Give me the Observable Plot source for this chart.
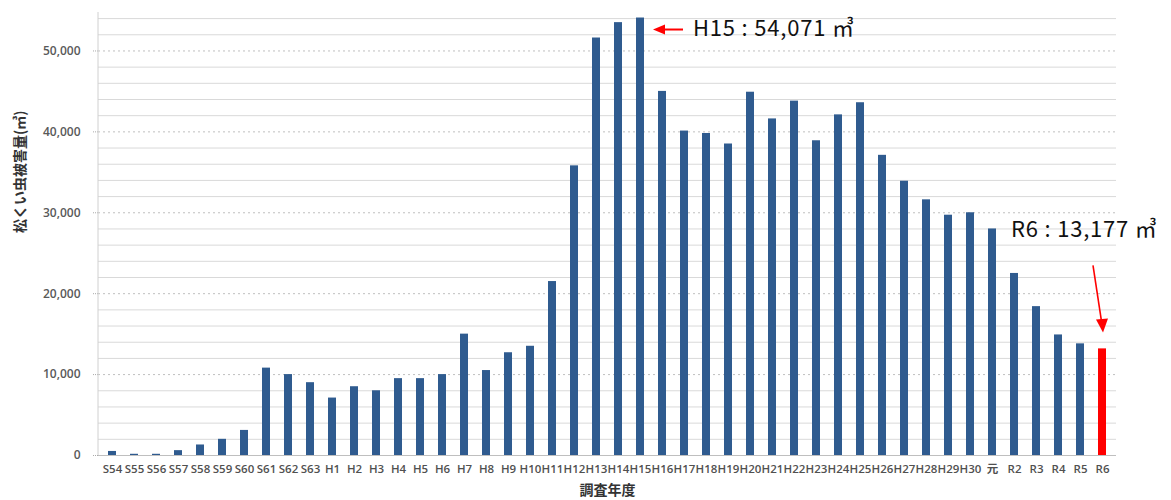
<!DOCTYPE html>
<html><head><meta charset="utf-8">
<script src="https://cdn.jsdelivr.net/npm/d3@7"></script>
<script src="https://cdn.jsdelivr.net/npm/@observablehq/plot@0.6"></script>
<style>
body{margin:0;background:#fff;}
</style></head>
<body><div id="chart"></div>
<script>
const years = ["S54","S55","S56","S57","S58","S59","S60","S61","S62","S63",
"H1","H2","H3","H4","H5","H6","H7","H8","H9","H10","H11","H12","H13","H14","H15",
"H16","H17","H18","H19","H20","H21","H22","H23","H24","H25","H26","H27","H28","H29","H30",
"元","R2","R3","R4","R5","R6"];
const damage = [500,150,150,600,1300,2000,3100,10800,10000,9000,
7100,8500,8000,9500,9500,10000,15000,10500,12700,13500,21500,35800,51600,53500,54071,
45000,40100,39800,38500,44900,41600,43800,38900,42100,43600,37100,33900,31600,29700,30000,
28000,22500,18400,14900,13800,13177];
const highlightYear = "R6";
const yTicks = [0,10000,20000,30000,40000,50000];
const minorGrid = d3.range(2000, 56000, 2000).filter(v => v % 10000 !== 0);
const majorGrid = [10000,20000,30000,40000,50000];
const notes = [
  {year:"H15", value:54071, label:"H15 : 54,071 ㎥"},
  {year:"R6", value:13177, label:"R6 : 13,177 ㎥"}
];

const data = years.map((y,i)=>({year:y, value:damage[i]}));

function annotations(index, scales, values, dimensions) {
  const ns = "http://www.w3.org/2000/svg";
  const g = document.createElementNS(ns, "g");
  g.setAttribute("text-anchor", "start");
  const x = scales.x, y = scales.y, bw = x.bandwidth();
  const red = "#ff0000";
  const font = "'Noto Sans CJK JP',sans-serif";
  function add(tag, attrs, text) {
    const el = document.createElementNS(ns, tag);
    for (const k in attrs) el.setAttribute(k, attrs[k]);
    if (text) el.textContent = text;
    g.appendChild(el); return el;
  }
  // left axis line
  add("line", {x1: dimensions.marginLeft, x2: dimensions.marginLeft,
    y1: dimensions.marginTop + 2, y2: dimensions.height - dimensions.marginBottom, stroke: "#d0d0d0"});
  // H15 note: arrow pointing left to bar top
  const a = notes[0];
  const ax = x(a.year) + bw/2 + 13, ay = y(a.value) + 12;
  add("line", {x1: ax + 30, y1: ay, x2: ax + 10, y2: ay, stroke: red, "stroke-width": 2});
  add("path", {d:`M${ax},${ay} L${ax+12},${ay-5} L${ax+12},${ay+5} Z`, fill: red});
  add("text", {x: ax + 40, y: ay + 6, "font-size": 22, "letter-spacing": 0.8, fill: "#111", "text-anchor": "start", "font-family": font}, a.label);
  // R6 note: label above, arrow pointing down
  const b = notes[1];
  const bx = x(b.year) + bw/2, by = y(b.value);
  add("text", {x: bx - 91, y: by - 111, "font-size": 22, "letter-spacing": 0.8, fill: "#111", "text-anchor": "start", "font-family": font}, b.label);
  const tx = bx + 1, ty = by - 16, sx = bx - 9, sy = by - 83;
  add("line", {x1: sx, y1: sy, x2: tx - 1.5, y2: ty - 11, stroke: red, "stroke-width": 1.6});
  add("path", {d:`M${tx},${ty} L${tx-7},${ty-13} L${tx+5},${ty-14} Z`, fill: red});
  return g;
}

const chart = Plot.plot({
  width: 1171,
  height: 500,
  marginLeft: 98,
  marginRight: 55,
  marginTop: 10,
  marginBottom: 45,
  style: {fontFamily: "'Open Sans','Noto Sans CJK JP',sans-serif", background: "#fff", overflow: "visible"},
  x: {domain: years, paddingInner: 0.62, paddingOuter: 0.31, label: null},
  y: {domain: [0, 55000], label: null},
  marks: [
    Plot.ruleY(minorGrid, {stroke: "#d9d9d9", strokeWidth: 1}),
    Plot.ruleY(majorGrid, {stroke: "#bfbfbf", strokeWidth: 1, strokeDasharray: "2,3"}),
    Plot.barY(data, {x: "year", y: "value", fill: d => d.year === highlightYear ? "#ff0000" : "#2f5b8f"}),
    Plot.ruleY([0], {stroke: "#bfbfbf"}),
    Plot.axisY({ticks: yTicks, tickFormat: d3.format(","), tickSize: 5, tickPadding: 13,
      stroke: "#aaa", strokeDasharray: "1,1", fontSize: 12, fontWeight: 600, fill: "#595959", label: null}),
    Plot.axisX({tickSize: 0, tickPadding: 9, fontSize: 11.5, fontWeight: 600, fill: "#505050", label: null}),
    Plot.text(["調査年度"], {frameAnchor: "bottom", dy: 39, fontSize: 14, fontWeight: "bold", fill: "#333",
      fontFamily: "'Noto Sans CJK JP',sans-serif"}),
    Plot.text(["松くい虫被害量(㎥)"], {frameAnchor: "left", dx: -78, rotate: -90, fontSize: 14, fontWeight: "bold", fill: "#333",
      fontFamily: "'Noto Sans CJK JP',sans-serif"}),
    annotations
  ]
});
document.getElementById("chart").appendChild(chart);
</script>
</body></html>
